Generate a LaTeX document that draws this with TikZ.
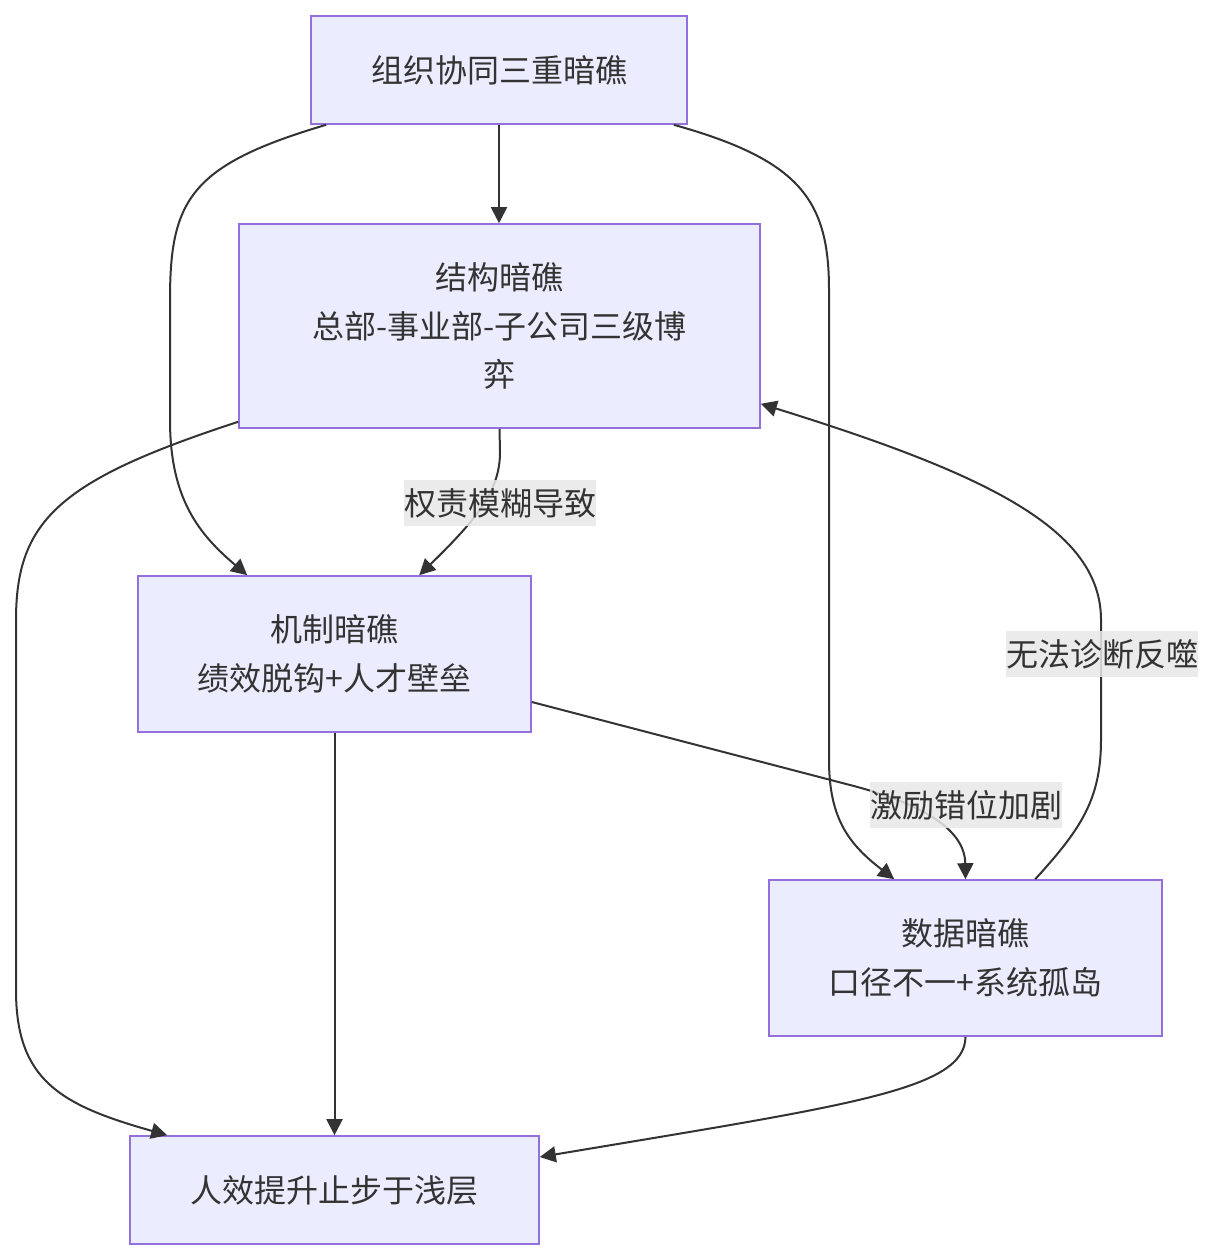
\documentclass[tikz,border=0pt]{standalone}
\usepackage{fontspec}
\setmainfont{Noto Sans CJK SC}
\usetikzlibrary{arrows.meta,calc}
\definecolor{nodefill}{HTML}{ECECFF}
\definecolor{nodeline}{HTML}{9370DB}
\definecolor{txt}{HTML}{333333}
\definecolor{lblbg}{HTML}{E8E8E8}
\begin{document}
\begin{tikzpicture}[x=1pt,y=-1pt,
 box/.style={draw=nodeline, fill=nodefill, line width=1.6pt, inner sep=0pt, align=center, text=txt, font=\fontsize{32}{48.5}\selectfont},
 edge/.style={draw=txt, line width=2pt, -{Triangle[length=16pt,width=16pt]}},
 lbl/.style={fill=lblbg, fill opacity=0.85, text opacity=1, text=txt, inner sep=0pt, minimum width=192pt, minimum height=46pt, font=\fontsize{32}{38}\selectfont}]
\useasboundingbox (0,0) rectangle (1213,1260);

\node[box, minimum width=376pt, minimum height=108pt] (top) at (499,70) {组织协同三重暗礁};
\node[box, minimum width=521pt, minimum height=204pt] (struct) at (499.5,326) {结构暗礁\\总部-事业部-子公司三级博\\弈};
\node[box, minimum width=393pt, minimum height=156pt] (mech) at (334.5,654) {机制暗礁\\绩效脱钩+人才壁垒};
\node[box, minimum width=393pt, minimum height=156pt] (data) at (965.5,958) {数据暗礁\\口径不一+系统孤岛};
\node[box, minimum width=409pt, minimum height=108pt] (eff) at (334.5,1190) {人效提升止步于浅层};

% edges
\draw[edge] (top.south) -- (top.south |- struct.north);
\draw[edge] ($(top.south west)+(16,0)$) .. controls (190,165) and (170,200) .. (170,300) -- (170,420) .. controls (170,500) and (200,535) .. ($(mech.north west)+(110,0)$);
\draw[edge] ($(top.south east)+(-14,0)$) .. controls (800,160) and (829,200) .. (829,290) -- (829,760) .. controls (829,820) and (850,845) .. ($(data.north west)+(126,0)$);
\draw[edge] (struct.south) -- (500,452) .. controls (500,490) and (478,518) .. ($(mech.north west)+(282,0)$);
\draw[edge] ($(struct.south west)+(0,-7)$) .. controls (60,480) and (16,520) .. (16,620) -- (16,990) .. controls (16,1080) and (60,1105) .. ($(eff.north west)+(38,0)$);
\draw[edge] (mech.south) -- (eff.north);
\draw[edge] ($(mech.east)+(0,48)$) -- (850,785) .. controls (935,807) and (965,835) .. (data.north);
\draw[edge] ($(data.north west)+(267,0)$) .. controls (1080,830) and (1101,800) .. (1101,740) -- (1101,620) .. controls (1101,530) and (990,475) .. ($(struct.south east)+(0,-25)$);
\draw[edge] (data.south) .. controls (965,1090) and (850,1105) .. ($(eff.east)+(0,-33)$);

% edge labels
\node[lbl] (l1) at (500,503) {权责模糊导致};
\node[lbl] (l2) at (1102,654) {无法诊断反噬};
\node[lbl] (l3) at (966,805) {激励错位加剧};
\end{tikzpicture}
\end{document}
